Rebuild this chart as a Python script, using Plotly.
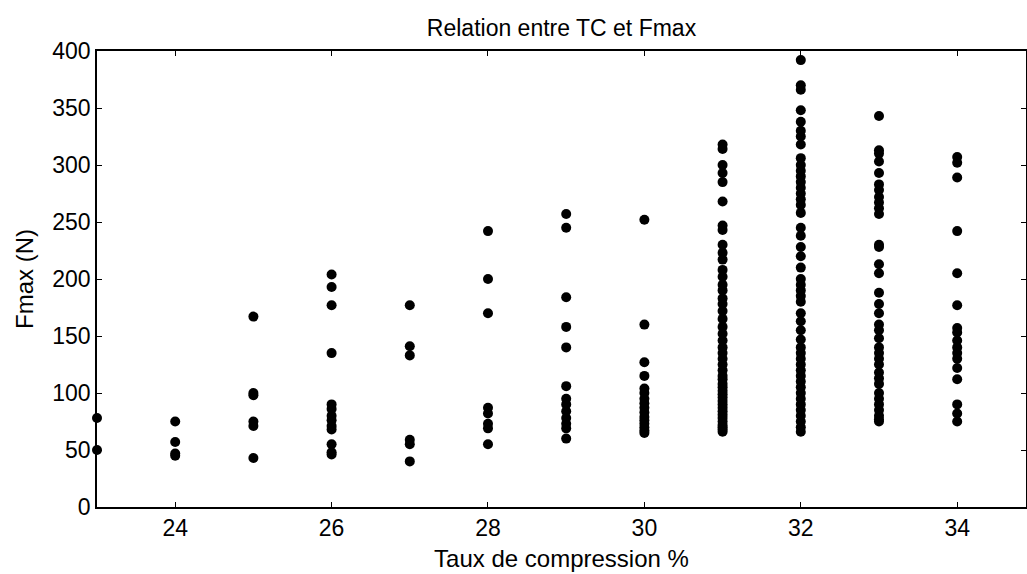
import plotly.graph_objects as go

# Taux de compression (%) -> Fmax (N) readings per group
tc_values = [23, 24, 25, 26, 27, 28, 29, 30, 31, 32, 33, 34]

fmax_23 = [78, 50]
fmax_24 = [75, 57, 47, 45]
fmax_25 = [167, 100, 98, 75, 71, 43]
fmax_26 = [204, 193, 177, 135, 90, 86, 80, 76, 71, 68, 55, 48, 46]
fmax_27 = [177, 141, 133, 59, 55, 40]
fmax_28 = [242, 200, 170, 87, 82, 73, 69, 55]
fmax_29 = [257, 245, 184, 158, 140, 106, 95, 90, 84, 78, 73, 69, 60]
fmax_30 = [252, 160, 127, 115, 104, 100, 95, 91, 87, 83, 79, 76, 73, 70, 67, 65]
fmax_31 = [318, 314, 300, 293, 285, 268, 247, 243, 230, 223, 217, 208, 202, 195,
           190, 183, 178, 172, 165, 158, 152, 146, 140, 135, 130, 125, 120, 115,
           112, 108, 105, 102, 99, 96, 93, 90, 87, 84, 81, 78, 75, 72, 70, 68, 66]
fmax_32 = [392, 370, 366, 348, 338, 330, 325, 318, 306, 300, 295, 290, 285, 280,
           275, 270, 265, 258, 245, 238, 228, 220, 210, 200, 195, 190, 185, 180,
           170, 163, 155, 147, 140, 135, 130, 125, 120, 115, 110, 105, 100, 95,
           90, 85, 80, 75, 70, 66]
fmax_33 = [343, 313, 310, 303, 293, 283, 278, 272, 267, 262, 257, 230, 228, 213,
           205, 188, 178, 170, 160, 155, 148, 140, 135, 130, 125, 118, 113, 108,
           100, 95, 90, 85, 80, 77, 75]
fmax_34 = [307, 302, 289, 242, 205, 177, 157, 153, 146, 140, 135, 130, 122, 112,
           90, 82, 75]

groups = [fmax_23, fmax_24, fmax_25, fmax_26, fmax_27, fmax_28, fmax_29,
          fmax_30, fmax_31, fmax_32, fmax_33, fmax_34]

x_ticks = [24, 26, 28, 30, 32, 34]
y_ticks = [0, 50, 100, 150, 200, 250, 300, 350, 400]

xs, ys = [], []
for tc, vals in zip(tc_values, groups):
    for v in vals:
        xs.append(tc)
        ys.append(v)

fig = go.Figure()
fig.add_trace(go.Scatter(
    x=xs, y=ys, mode="markers",
    marker=dict(color="black", size=10, line=dict(width=0)),
    cliponaxis=False, showlegend=False,
))

font = "Liberation Sans, Arial, sans-serif"
axis_common = dict(
    showgrid=False, zeroline=False,
    showline=True, linecolor="black", linewidth=1.5, mirror="ticks",
    ticks="inside", ticklen=5, tickcolor="black", tickwidth=1,
    tickfont=dict(family=font, size=23, color="black"),
    automargin=False,
)

fig.update_layout(
    width=1027, height=574,
    paper_bgcolor="white", plot_bgcolor="white",
    margin=dict(l=97, r=1, t=51, b=67),
    title=dict(text="Relation entre TC et Fmax", x=0.5, xanchor="center",
               xref="paper", y=1 - 28 / 574, yanchor="middle",
               font=dict(family=font, size=23, color="black")),
    xaxis=dict(range=[23, 34.88], tickvals=x_ticks,
               title=dict(text="Taux de compression %",
                          font=dict(family=font, size=24, color="black"),
                          standoff=10),
               **axis_common),
    yaxis=dict(range=[0, 400], tickvals=y_ticks,
               title=dict(text="Fmax (N)",
                          font=dict(family=font, size=24, color="black"),
                          standoff=12),
               **axis_common),
)

fig.write_html(
    "out.html",
    config={"displayModeBar": False},
    post_script="document.body.style.margin='0';document.body.style.overflow='hidden';",
)
